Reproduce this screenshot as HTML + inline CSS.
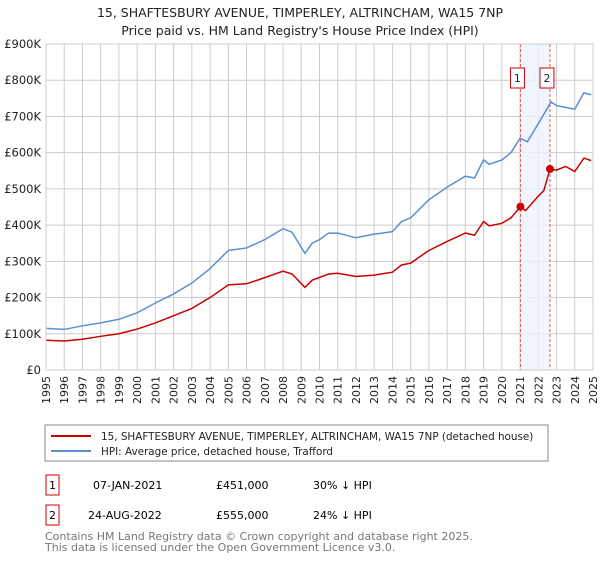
<!DOCTYPE html>
<html><head><meta charset="utf-8"><style>
body{margin:0;background:#fff;font-family:"Liberation Sans","DejaVu Sans",sans-serif;}
svg text{font-family:"DejaVu Sans","Liberation Sans",sans-serif;}
</style></head><body>
<svg width="600" height="560" viewBox="0 0 600 560" xmlns="http://www.w3.org/2000/svg">
<text x="300" y="17" text-anchor="middle" font-size="12.5" fill="#222">15, SHAFTESBURY AVENUE, TIMPERLEY, ALTRINCHAM, WA15 7NP</text>
<text x="300" y="35" text-anchor="middle" font-size="12.5" fill="#222">Price paid vs. HM Land Registry's House Price Index (HPI)</text>
<g id="grid"></g>
<g id="marks"></g>
<g id="axes"></g>
<rect x="45" y="425" width="503" height="36" fill="#fff" stroke="#888"/>
<line x1="51" y1="436" x2="91" y2="436" stroke="#cc0000" stroke-width="2"/>
<text x="101" y="440" font-size="10.4" fill="#222">15, SHAFTESBURY AVENUE, TIMPERLEY, ALTRINCHAM, WA15 7NP (detached house)</text>
<line x1="51" y1="451" x2="91" y2="451" stroke="#5b8fd4" stroke-width="2"/>
<text x="101" y="455" font-size="10.4" fill="#222">HPI: Average price, detached house, Trafford</text>
<g>
<rect x="46" y="475" width="13" height="20" fill="#fff" stroke="#cc0000"/>
<text x="52.5" y="489" text-anchor="middle" font-size="11">1</text>
<text x="93" y="489" font-size="11">07-JAN-2021</text>
<text x="216" y="489" font-size="11">£451,000</text>
<text x="313" y="489" font-size="11">30% ↓ HPI</text></g>
<g>
<rect x="46" y="505" width="13" height="20" fill="#fff" stroke="#cc0000"/>
<text x="52.5" y="519" text-anchor="middle" font-size="11">2</text>
<text x="88" y="519" font-size="11">24-AUG-2022</text>
<text x="216" y="519" font-size="11">£555,000</text>
<text x="313" y="519" font-size="11">24% ↓ HPI</text></g>
<text x="45" y="540" font-size="11" fill="#777">Contains HM Land Registry data © Crown copyright and database right 2025.</text>
<text x="45" y="551" font-size="11" fill="#777">This data is licensed under the Open Government Licence v3.0.</text>
</svg>
<script>
const hpiYears=[1995,1996,1997,1998,1999,2000,2001,2002,2003,2004,2005,2006,2007,2008,2008.5,2009.2,2009.6,2010,2010.5,2011,2012,2013,2014,2014.5,2015,2016,2017,2018,2018.5,2019,2019.3,2020,2020.5,2021,2021.4,2022,2022.7,2023,2023.5,2024,2024.5,2024.9];
const hpiValues=[115,112,122,130,140,158,185,210,240,280,330,337,360,390,380,322,350,360,378,378,365,375,382,410,420,470,505,535,530,580,568,580,600,640,630,680,740,730,725,720,765,760];
const propYears=[1995,1996,1997,1998,1999,2000,2001,2002,2003,2004,2005,2006,2007,2008,2008.5,2009.2,2009.6,2010.5,2011,2012,2013,2014,2014.5,2015,2016,2017,2018,2018.5,2019,2019.3,2020,2020.5,2021.02,2021.3,2022,2022.3,2022.64,2023,2023.5,2024,2024.5,2024.9];
const propValues=[82,80,85,93,100,113,130,150,170,200,235,238,255,273,265,228,248,265,267,258,262,270,290,295,330,355,378,372,410,398,405,420,451,440,480,495,555,552,562,548,585,578];
const saleYears=[2021.02,2022.64];
const saleValues=[451,555];
const saleLabels=["1","2"];
const yTicks=[0,100,200,300,400,500,600,700,800,900];
const yTickLabels=["£0","£100K","£200K","£300K","£400K","£500K","£600K","£700K","£800K","£900K"];
const xTicks=[];for(let y=1995;y<=2025;y++)xTicks.push(y);

const L=46,R=593,T=44,B=370;
const xs=y=>L+(y-1995)*(R-L)/30;
const ys=v=>B-v*(B-T)/900;
const NS="http://www.w3.org/2000/svg";
function mk(parent,tag,attrs){const e=document.createElementNS(NS,tag);for(const k in attrs)e.setAttribute(k,attrs[k]);document.getElementById(parent).appendChild(e);return e;}

xTicks.forEach(y=>{const l=mk('grid','line',{x1:xs(y),x2:xs(y),y1:T,y2:B,stroke:'#ccc'});


const t=mk('axes','text',{x:0,y:0,'font-size':11,fill:'#222','text-anchor':'end',transform:`translate(${xs(y)+4},${B+6}) rotate(-90)`});t.textContent=y;

});
yTicks.forEach((v,i)=>{const l=mk('grid','line',{x1:L,x2:R,y1:ys(v),y2:ys(v),stroke:'#ccc'});


const t=mk('axes','text',{x:L-5,y:ys(v)+4,'font-size':11.5,fill:'#222','text-anchor':'end'});t.textContent=yTickLabels[i];

});

const sh=mk('marks','rect',{x:xs(saleYears[0]),y:T,width:xs(saleYears[1])-xs(saleYears[0]),height:B-T,fill:'#eef3fc',opacity:0.8});


saleYears.forEach((y,i)=>{const l=mk('marks','line',{x1:xs(y),x2:xs(y),y1:T,y2:B,stroke:'#e05555','stroke-dasharray':'3,2'});

});

const hp=mk('marks','polyline',{points:hpiYears.map((y,i)=>xs(y)+','+ys(hpiValues[i])).join(' '),fill:'none',stroke:'#5b8fd4','stroke-width':1.5});


const pp=mk('marks','polyline',{points:propYears.map((y,i)=>xs(y)+','+ys(propValues[i])).join(' '),fill:'none',stroke:'#cc0000','stroke-width':1.5});


saleYears.forEach((y,i)=>{const c=mk('marks','circle',{cx:xs(y),cy:ys(saleValues[i]),r:4,fill:'#cc0000'});


const b=mk('marks','rect',{x:xs(y)-10,y:68,width:14,height:20,fill:'#fff',stroke:'#cc0000'});


const t=mk('marks','text',{x:xs(y)-3,y:82,'font-size':11,'text-anchor':'middle',fill:'#222'});t.textContent=saleLabels[i];

});
mk('axes','rect',{x:L,y:T,width:R-L,height:B-T,fill:'none',stroke:'#ccc'});
</script>
</body></html>
